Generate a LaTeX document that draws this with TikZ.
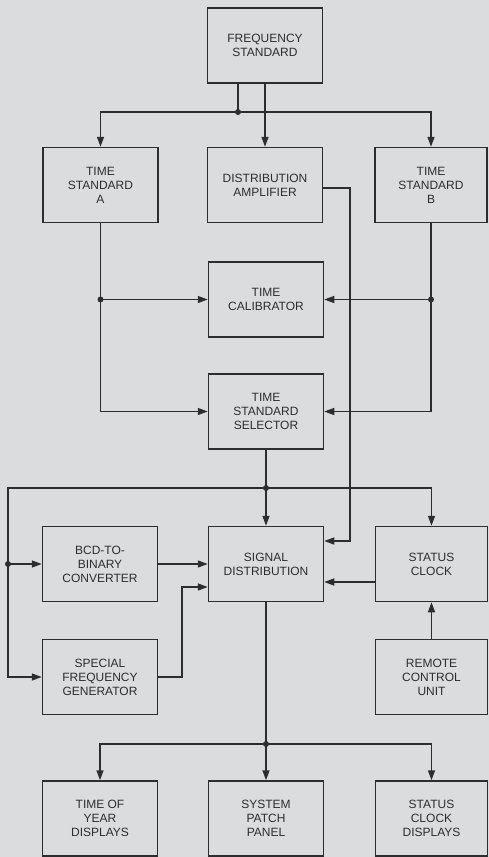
\documentclass[tikz,border=0pt]{standalone}
\usepackage{fontspec}
\setmainfont{Liberation Sans}
\usetikzlibrary{arrows.meta}
\definecolor{bg}{RGB}{219,220,221}
\definecolor{ink}{RGB}{45,45,48}
\begin{document}
\begin{tikzpicture}[x=1pt,y=-1pt,
  blk/.style={draw=ink, line width=1.5pt, minimum width=115pt, minimum height=75pt,
    align=center, text=ink, font=\fontsize{12}{14}\selectfont, inner sep=0pt},
  rblk/.style={blk, minimum width=112pt},
  conn/.style={draw=ink, line width=1.5pt},
  arr/.style={conn, -{Triangle[length=10pt,width=7pt]}},
  dot/.style={circle, fill=ink, inner sep=0pt, minimum size=6pt}]
\fill[bg] (0,0) rectangle (489,857);
\useasboundingbox (0,0) rectangle (489,857);
% boxes
\node[blk]  (fs)  at (265,45.5)  {FREQUENCY\\STANDARD};
\node[blk]  (tsa) at (100.5,185) {TIME\\STANDARD\\A};
\node[blk]  (da)  at (265,185)   {DISTRIBUTION\\AMPLIFIER};
\node[rblk] (tsb) at (431,185)   {TIME\\STANDARD\\B};
\node[blk]  (tc)  at (266,299.5) {TIME\\CALIBRATOR};
\node[blk]  (tss) at (266,411.5) {TIME\\STANDARD\\SELECTOR};
\node[blk]  (bcd) at (100,564)   {BCD-TO-\\BINARY\\CONVERTER};
\node[blk]  (sd)  at (266,564)   {SIGNAL\\DISTRIBUTION};
\node[rblk] (sc)  at (431.5,564) {STATUS\\CLOCK};
\node[blk]  (sfg) at (100,677)   {SPECIAL\\FREQUENCY\\GENERATOR};
\node[rblk] (rcu) at (431.5,677) {REMOTE\\CONTROL\\UNIT};
\node[blk]  (toy) at (100,818.5) {TIME OF\\YEAR\\DISPLAYS};
\node[blk]  (spp) at (266,818.5) {SYSTEM\\PATCH\\PANEL};
\node[rblk] (scd) at (431.5,818.5) {STATUS\\CLOCK\\DISPLAYS};
% coordinates
\coordinate (j1) at (238,112);
\coordinate (j2) at (100.5,299.5);
\coordinate (j3) at (431,299.5);
\coordinate (j4) at (266,488);
\coordinate (lt) at (8,488);
\coordinate (j5) at (8,564);
\coordinate (dak) at (350,541);
\coordinate (sk) at (182,587);
\coordinate (j6) at (266,744);
% connectors
\draw[conn] (fs.south -| j1) -- (j1);
\draw[arr] (j1) -| (tsa);
\draw[arr] (j1) -| (tsb);
\draw[arr] (fs.south -| da) -- (da);
\draw[arr] ([yshift=-3pt]da.east) -| (dak) -- (dak -| sd.east);
\draw[conn] (tsa) -- (j2);
\draw[arr] (j2) -- (tc);
\draw[arr] (j2) |- (tss);
\draw[conn] (tsb) -- (j3);
\draw[arr] (j3) -- (tc);
\draw[arr] (j3) |- (tss);
\draw[conn] (tss) -- (j4);
\draw[arr] (j4) -- (sd);
\draw[arr] (j4) -| (sc);
\draw[arr] (j4) -- (lt) |- (sfg);
\draw[arr] (j5) -- (bcd);
\draw[arr] (bcd) -- (sd);
\draw[arr] (sfg) -| (sk) -- (sk -| sd.west);
\draw[arr] ([yshift=-18pt]sc.west) -- ([yshift=-18pt]sd.east);
\draw[arr] (rcu) -- (sc);
\draw[conn] (sd) -- (j6);
\draw[arr] (j6) -| (toy);
\draw[arr] (j6) -- (spp);
\draw[arr] (j6) -| (scd);
% junction dots
\foreach \j in {j1,j2,j3,j4,j5,j6} \node[dot] at (\j) {};
\end{tikzpicture}
\end{document}
